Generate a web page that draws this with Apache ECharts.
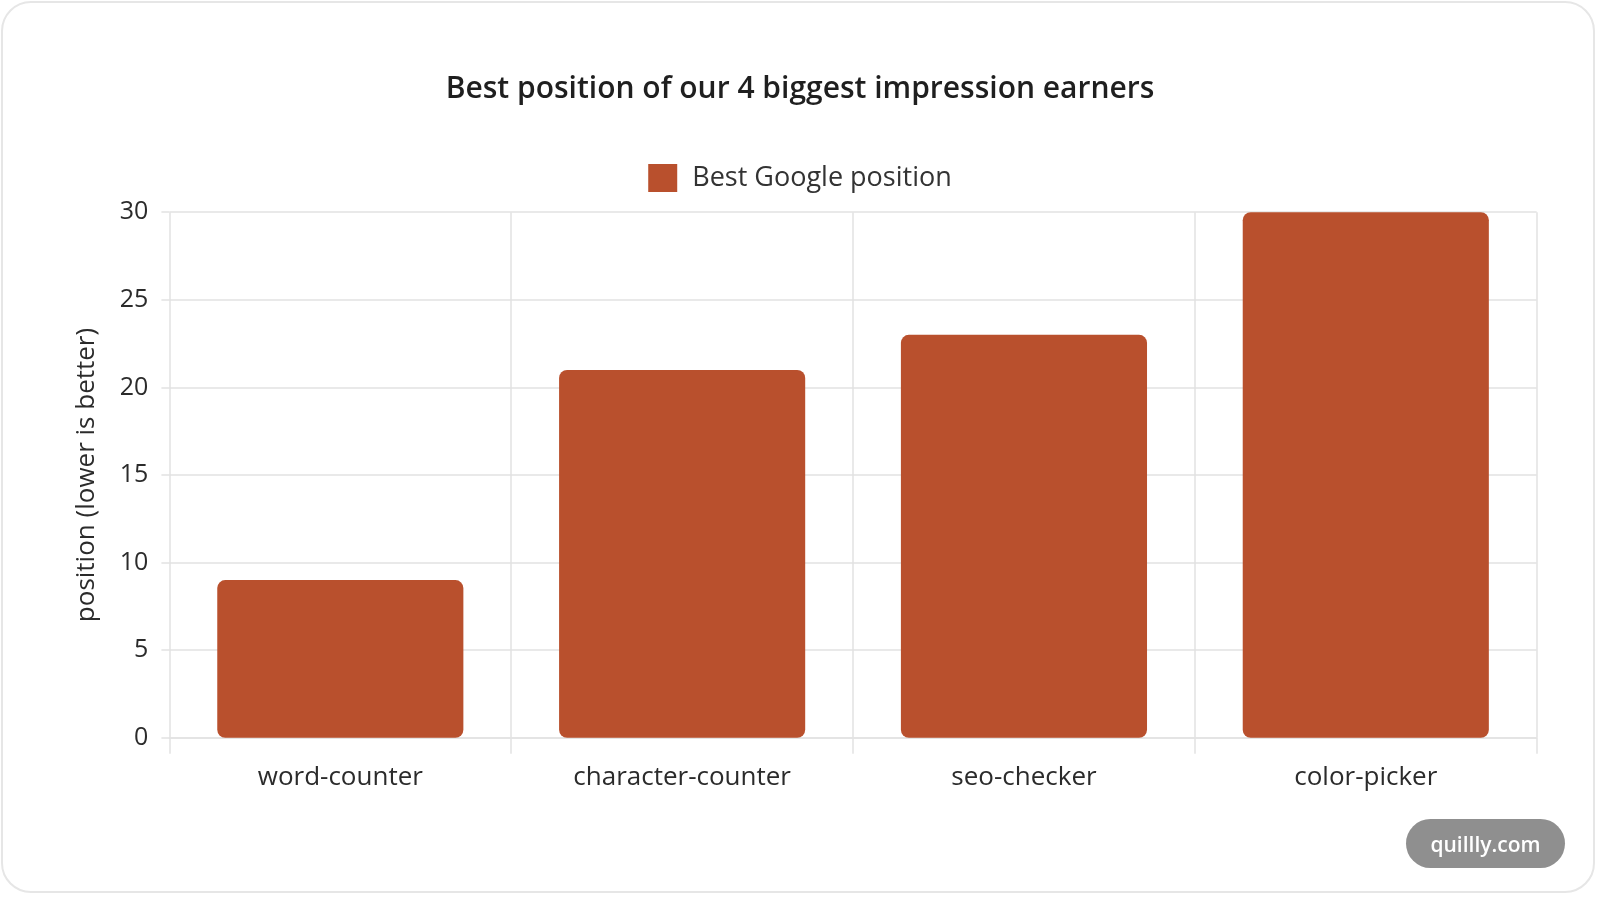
<!DOCTYPE html>
<html>
<head>
<meta charset="utf-8">
<script src="https://cdn.jsdelivr.net/npm/echarts@6/dist/echarts.min.js"></script>
<style>
html,body{margin:0;padding:0;background:#ffffff;}
#card{position:absolute;left:1px;top:1px;width:1594px;height:892px;border:2px solid #e6e6e6;border-radius:30px;box-sizing:border-box;background:#fff;}
#chart{position:absolute;left:0;top:0;width:1600px;height:898px;}
</style>
</head>
<body>
<div id="card"></div>
<div id="chart"></div>
<script>
const titleText = 'Best position of our 4 biggest impression earners';
const seriesName = 'Best Google position';
const categories = ['word-counter', 'character-counter', 'seo-checker', 'color-picker'];
const positions = [9, 21, 23, 30];
const yAxisName = 'position (lower is better)';
const watermark = 'quillly.com';

const FONT = '"Open Sans", "Noto Sans", sans-serif';
const chart = echarts.init(document.getElementById('chart'));
chart.setOption({
  animation: false,
  textStyle: {fontFamily: FONT},
  title: {
    text: titleText,
    left: 'center',
    top: 69,
    textStyle: {fontSize: 30, fontWeight: 600, color: '#1f1f1f', fontFamily: FONT}
  },
  legend: {
    top: 159,
    left: 'center',
    itemWidth: 29,
    itemHeight: 28,
    itemGap: 10,
    textStyle: {fontSize: 27, color: '#333', fontFamily: FONT, padding: [0, 0, 0, 10]},
    data: [{name: seriesName, icon: 'rect'}]
  },
  grid: {left: 169.4, right: 63.3, top: 212.2, bottom: 160.2, containLabel: false},
  xAxis: {
    type: 'category',
    data: categories,
    boundaryGap: true,
    axisLine: {show: true, lineStyle: {color: '#e2e2e2', width: 1.5}},
    axisTick: {show: true, length: 16, lineStyle: {color: '#e2e2e2', width: 1.5}},
    splitLine: {show: true, lineStyle: {color: '#e2e2e2', width: 1.5}},
    axisLabel: {fontSize: 26, color: '#2b2b2b', margin: 27, fontFamily: FONT}
  },
  yAxis: {
    type: 'value',
    min: 0,
    max: 30,
    interval: 5,
    name: yAxisName,
    nameLocation: 'middle',
    nameRotate: 90,
    nameGap: 70,
    nameTextStyle: {fontSize: 26, color: '#2b2b2b', fontFamily: FONT},
    axisLine: {show: false},
    axisTick: {show: true, length: 8, lineStyle: {color: '#e2e2e2', width: 1.5}},
    splitLine: {show: true, lineStyle: {color: '#e2e2e2', width: 1.5}},
    axisLabel: {fontSize: 25, color: '#2b2b2b', margin: 21, fontFamily: FONT}
  },
  series: [{
    name: seriesName,
    type: 'bar',
    data: positions,
    barWidth: '72%',
    itemStyle: {color: '#B9502D', borderRadius: 8}
  }],
  graphic: [{
    type: 'group',
    right: 35,
    bottom: 30,
    children: [
      {type: 'rect', shape: {x: 0, y: 0, width: 159, height: 49, r: 24.5}, style: {fill: '#8f8f8f'}},
      {type: 'text', x: 79.5, y: 27, style: {text: watermark, fill: '#ffffff', font: '600 21px "Open Sans", sans-serif', textAlign: 'center', textVerticalAlign: 'middle'}}
    ]
  }]
});
</script>
</body>
</html>
